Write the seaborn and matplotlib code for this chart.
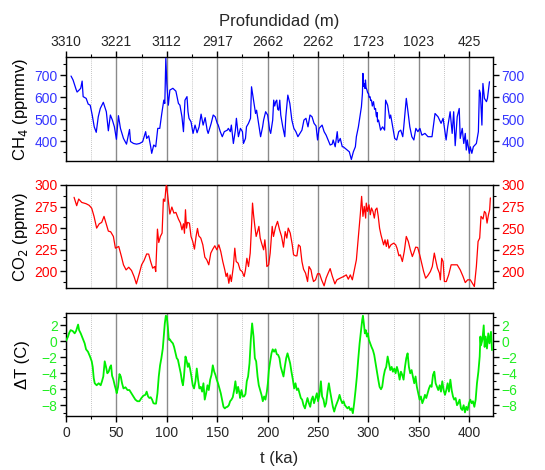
import matplotlib
matplotlib.use("Agg")
import matplotlib.pyplot as plt
from matplotlib.ticker import MultipleLocator
import numpy as np
import pandas as pd
import seaborn as sns

# Vostok ice core records: methane, carbon dioxide and temperature anomaly
ch4_age = [5, 7, 10, 11, 13, 14.6, 16, 17, 20, 22, 24, 26, 28, 30, 32, 34, 37, 40, 42, 44,
           46, 48, 50, 52, 54, 57, 60, 63, 64, 67, 70, 73, 76, 79, 80, 82, 84, 85, 87, 89,
           91, 93, 95, 97, 98, 99, 100, 101.5, 103, 106, 109, 111.5, 113, 115, 116.5, 118, 120, 121, 122, 124,
           126, 128, 130, 132, 134, 136, 138, 140, 141, 144, 146, 148, 150, 151, 153, 155, 157, 160, 161, 163,
           164, 166, 168, 169, 171, 173, 175, 176, 178, 179, 181, 183, 184, 186, 188, 189, 191, 193, 195, 196,
           198, 200, 202, 203, 205, 206, 207, 208, 209, 210, 211, 212, 213, 215, 217, 218, 220, 222, 224, 226,
           228, 230, 232, 234, 236, 238, 240, 242, 244, 246, 248, 249.5, 251, 254, 256, 258, 260, 262, 264, 265,
           267, 269, 270, 272, 274, 275, 279, 281, 283, 285, 287, 288, 290, 291, 293, 294, 294.5, 295.2, 296, 296.6,
           297, 297.6, 298.5, 299.2, 300, 300.7, 301.5, 302.2, 303, 303.8, 305, 306, 307, 307.6, 308, 308.6, 309, 310, 312, 314,
           316, 317, 319, 321, 322, 324, 326, 328, 330, 332, 334, 335, 337.5, 339, 341, 343, 345, 347, 349, 351,
           353, 356, 359, 363, 366, 369, 372, 374, 377, 378.6, 381, 383, 384.5, 386, 388, 390, 391, 393, 394.5, 396,
           397, 398, 400, 401, 402.5, 404, 407, 409, 410, 411, 412.5, 413.5, 415, 417, 418, 420]
ch4_ppmv = [697, 679, 636, 624, 633, 641, 674, 603, 595, 569, 564, 519, 465, 440, 511, 549, 577, 534, 447, 519,
            496, 465, 408, 516, 458, 412, 386, 453, 398, 389, 386, 389, 397, 443, 412, 424, 374, 344, 382, 374,
            458, 458, 526, 587, 572, 778, 663, 564, 633, 641, 628, 572, 564, 511, 443, 587, 603, 534, 504, 488,
            435, 473, 438, 465, 523, 473, 507, 450, 435, 481, 519, 511, 481, 473, 443, 420, 443, 450, 458, 443,
            473, 389, 450, 504, 420, 458, 443, 389, 412, 465, 481, 504, 648, 587, 526, 541, 481, 420, 465, 496,
            534, 519, 450, 435, 496, 587, 560, 580, 587, 545, 541, 587, 519, 465, 420, 511, 610, 572, 496, 458,
            443, 420, 435, 450, 496, 504, 465, 519, 511, 481, 469, 405, 458, 473, 443, 427, 405, 382, 386, 405,
            374, 443, 393, 412, 374, 374, 359, 351, 316, 351, 374, 420, 465, 496, 557, 618, 709, 650, 663, 640,
            679, 645, 633, 620, 618, 600, 603, 585, 587, 560, 580, 545, 549, 520, 511, 530, 488, 496, 450, 465,
            450, 587, 564, 504, 519, 465, 412, 405, 443, 450, 420, 465, 595, 541, 465, 420, 405, 458, 443, 458,
            427, 435, 420, 420, 526, 511, 481, 504, 405, 465, 534, 435, 534, 379, 511, 549, 412, 458, 389, 435,
            359, 405, 344, 374, 344, 374, 389, 443, 633, 618, 473, 663, 595, 580, 595, 671]

co2_age = [8, 10.6, 12.6, 15.6, 19.9, 23, 25.5, 27.8, 30.4, 33, 35.4, 37.7, 39.7, 42, 44.3, 47, 49, 52.3, 55, 57,
           59.6, 62.2, 65, 67.5, 69.8, 72.8, 75, 77.4, 80, 82, 84, 86, 88, 89, 90.7, 92, 93.6, 95.3, 96.6, 98,
           99, 99.6, 100.6, 101.9, 103, 105, 107, 109, 111.5, 113.5, 115, 116.5, 117.5, 118.5, 119.5, 120.5, 122.4, 124, 125.7, 127.4,
           129, 130.4, 131.7, 133.7, 135.7, 137.7, 139.6, 141.6, 143.6, 145.6, 147.6, 149.6, 151.6, 153.5, 155.5, 157.5, 158.8, 160, 161.5, 162.8,
           164, 166, 167.4, 168.8, 170.7, 172.7, 174.7, 176.7, 178, 179.4, 181, 182.7, 184, 185, 186, 187.3, 188.6, 190, 191.3, 192.6,
           194, 196, 197.2, 198.2, 199.2, 201, 202.5, 204.5, 205.8, 207.8, 209.8, 211.8, 213.8, 215.7, 217.4, 219, 220.4, 222.4, 224.4, 225.7,
           227.7, 229, 230.6, 232.3, 234, 235.6, 237.6, 239.6, 241, 243, 244.2, 245.5, 247.5, 249.5, 251.5, 253.5, 256, 258, 260, 262,
           264, 266.7, 268.7, 272, 275.3, 278, 280, 282, 284, 286, 288, 290, 292, 293.2, 294.5, 295.8, 297.2, 297.8, 299, 300.5,
           301.8, 303, 304.4, 305.8, 307, 308.4, 309.7, 311, 312.4, 313.7, 315, 316.4, 317.7, 319, 320.3, 322.3, 325, 327, 328.3, 330.2,
           331.6, 333.6, 335.5, 337.5, 339.5, 341.5, 343.5, 344.8, 346.8, 348.8, 350.8, 352.8, 354.7, 356.7, 358.7, 361.4, 363.3, 365.3, 366.6, 368.4,
           370.4, 371.3, 372.6, 374, 375.3, 377.2, 379.5, 382, 385, 388, 391, 393.8, 396, 398.4, 401, 403, 405, 407, 408.7, 410.3,
           411.6, 413.6, 415, 416.3, 417.6, 419, 420.2, 420.9]
co2_ppmv = [285.7, 276, 283.7, 279.8, 278.3, 276.4, 273, 263.6, 250, 255, 256.6, 263.6, 255.8, 246.5, 245.7, 240.3, 226.7, 228.7, 217, 207.4,
            201.5, 204.6, 200.8, 193.8, 185.3, 197.7, 207.4, 212.4, 220, 219.8, 211, 203.5, 205.4, 199.6, 248.8, 233.3, 240.3, 244.2, 283.7, 281,
            295.3, 300, 290.7, 277, 266.3, 274.4, 267.4, 268.2, 260.5, 255.8, 248, 255, 244, 271.3, 250, 256.6, 255.8, 240.3, 234.5, 225.6,
            240.3, 249.6, 241, 238.4, 230.6, 216.3, 213.2, 207.4, 221, 225.6, 229.5, 224.8, 230.6, 222.9, 211.2, 201.5, 193.8, 197.7, 186, 195.7,
            188, 205.4, 226.7, 211.2, 209.3, 201.5, 199.6, 193.8, 201.5, 215, 205.4, 221, 252, 279, 265.5, 252, 240.3, 246, 252, 238.4,
            232.5, 224.8, 236.4, 224.8, 205.4, 207.4, 221, 252, 240.3, 251.2, 257.8, 248, 240.3, 227.9, 246, 238.4, 250, 244.2, 230.6, 219,
            217.8, 217.8, 230.6, 228.7, 211.2, 202.3, 197.7, 188, 205.4, 201.5, 193.8, 188, 190, 197, 197, 190, 183, 192, 197.7, 203,
            194.6, 185.3, 190, 192, 193.8, 195.7, 190.7, 195.7, 190, 201.5, 213.2, 240.3, 267.4, 286.8, 263.6, 275.2, 261.6, 279, 269.4, 277,
            265.5, 273.3, 269.4, 261.6, 271.3, 273.3, 263.6, 250, 242.2, 236.4, 230.6, 236.4, 228.7, 236.4, 226.7, 230.6, 232.5, 230.6, 226.7, 217.8,
            219, 211.2, 222.9, 240.3, 234.5, 224.8, 217, 221, 227.9, 227.5, 219, 209.3, 199.6, 191.9, 194.6, 199.6, 205.4, 221, 213.2, 203.5,
            197.7, 190, 215, 211.2, 188, 188, 195.7, 207.4, 207.4, 207.4, 201.5, 193.8, 186.8, 190, 190, 186, 182.2, 205.4, 234.5, 238.4,
            263.6, 260.5, 269.4, 267.4, 255.8, 265.5, 271.3, 285]

temp_age = [0, 1.7, 3.3, 4.6, 6.6, 8.6, 10, 11.2, 12, 13, 14.6, 16.5, 18.5, 19.9, 21.8, 23.8, 25.5, 26.5, 27.5, 28.5,
            30.4, 32.4, 34.4, 35.7, 37, 38.4, 39.7, 41, 42.3, 43.7, 44.7, 45.7, 47, 48.3, 49.6, 50.3, 51.6, 53, 54.3, 55.6,
            57, 59, 61, 62.9, 64.8, 66.8, 68.8, 70.8, 72.8, 74.8, 76.8, 78.7, 80, 81.4, 82.7, 84, 85.4, 86.7, 88, 89.3,
            90.7, 92, 93.3, 94.6, 96, 97, 98, 99, 100, 101, 102, 103, 104.2, 106, 107.2, 108.5, 109.8, 111, 112.5, 113.8,
            115, 116, 117, 118.5, 119.8, 120.8, 121.8, 123, 124.4, 125.7, 127, 128.4, 129.7, 131, 132.3, 133.7, 135, 136.3, 137.6, 139,
            140.3, 141.6, 143, 144.3, 145.6, 147, 148.2, 149.5, 150.9, 152.2, 153.5, 154.8, 156.2, 157.5, 158.8, 160.1, 161.5, 162.8, 164.1, 165.4,
            166.8, 168, 169.4, 170.7, 172, 172.7, 174, 175.4, 176.7, 178, 179.3, 180.6, 182, 183.3, 184.6, 186, 187.3, 188.6, 190, 191.2,
            192.6, 193.9, 195.2, 196.5, 197.8, 199.2, 200.2, 201.2, 202.5, 203.8, 205, 206.4, 207.8, 209, 210.4, 211.7, 213, 214.4, 215.7, 217,
            218.4, 219.7, 221, 222.3, 223.6, 225, 226.3, 227.6, 229, 230.3, 231.6, 232.9, 234.2, 235.6, 237, 238.2, 239.5, 240.9, 242.2, 243.5,
            244.8, 246, 247.5, 248.8, 250, 251.4, 252.8, 254, 255.4, 256.7, 258, 259.4, 260.7, 262, 263.4, 264.7, 266, 267.3, 268.6, 270,
            271.3, 272.6, 274, 275.3, 276.6, 277.9, 279.2, 280.6, 281.9, 283.2, 284.5, 285.8, 287.2, 288.5, 289.8, 291.2, 292.5, 293.8, 294.5, 295.4,
            296.4, 297.4, 298.4, 299.4, 300.4, 301.7, 303, 304.4, 305.7, 307, 308.4, 309.7, 311, 312.4, 313.6, 315, 316.3, 317.6, 319, 320.3,
            321.6, 323, 324.2, 325.6, 326.9, 328.2, 329.5, 330.9, 332.2, 333.5, 334.8, 336.2, 337.5, 338.8, 340.1, 341.4, 342.8, 344, 345.4, 346.7,
            348, 349.4, 350.7, 352, 353.4, 354.7, 356, 357.3, 358.7, 360, 361.3, 362.6, 364, 365.3, 366.6, 368, 369.2, 370.6, 371.9, 373.2,
            374.5, 375.9, 377.2, 378.5, 379.8, 381.2, 382.5, 383.8, 385, 386.4, 387.8, 389, 390.4, 391.7, 393, 394.4, 395.7, 397, 398.3, 399.7,
            401, 402.3, 403.6, 405, 406.3, 407.6, 409, 410.3, 411, 411.6, 413, 414.3, 415.2, 416.2, 417.5, 418.8, 420, 421.5, 422.5]
temp_delta = [0.08, 0.5, 1.1, 1.4, 1.3, 1.0, 1.3, 1.8, 2.1, 1.4, 1.0, 0.4, -0.25, -1.0, -1.3, -1.9, -2.5, -3.2, -4.6, -5.25,
              -5.5, -5.25, -5.5, -5.0, -4.4, -2.5, -3.2, -4.0, -3.8, -3.2, -3.0, -4.3, -4.8, -5.5, -6.1, -6.5, -5.75, -4.1, -4.4, -5.25,
              -5.9, -5.75, -6.1, -6.1, -6.5, -6.9, -7.3, -7.5, -7.5, -7.1, -6.8, -6.7, -6.3, -6.9, -7.1, -7.0, -7.3, -7.75, -7.8, -7.8,
              -6.5, -4.4, -3.0, -2.1, -0.9, 0.6, 2.25, 3.2, 3.1, 1.8, 0.2, 0.25, 0.0, -0.25, -0.7, -1.4, -2.1, -2.3, -3.2, -4.0,
              -5.0, -5.5, -4.4, -1.9, -2.5, -3.2, -2.75, -3.4, -4.4, -5.5, -5.9, -5.0, -3.4, -4.8, -5.9, -5.7, -6.3, -5.25, -7.3, -6.5,
              -5.5, -6.1, -4.8, -4.2, -3.0, -3.8, -4.2, -4.8, -5.3, -5.9, -6.5, -7.3, -8.2, -8.4, -8.25, -8.2, -8.0, -7.5, -7.3, -7.0,
              -6.1, -5.0, -6.5, -5.7, -6.5, -7.1, -6.1, -6.9, -6.9, -6.6, -5.0, -4.4, -2.75, 0.2, 2.25, 0.6, -2.1, -2.5, -4.4, -5.5,
              -6.1, -6.7, -7.5, -6.9, -7.3, -6.3, -5.25, -3.6, -2.5, -1.5, -1.0, -1.3, -1.0, -1.6, -1.7, -2.1, -3.2, -3.8, -4.4, -3.2,
              -2.1, -1.5, -2.1, -2.75, -3.8, -4.8, -5.9, -5.25, -6.1, -5.9, -6.5, -7.1, -7.3, -8.0, -8.4, -7.75, -7.1, -7.75, -8.2, -7.3,
              -6.9, -7.75, -7.1, -6.5, -7.5, -6.7, -5.0, -6.9, -7.3, -8.2, -7.75, -6.3, -5.25, -6.3, -7.3, -8.2, -8.8, -8.2, -7.75, -7.3,
              -6.7, -7.3, -7.75, -7.5, -8.0, -8.2, -8.4, -8.2, -8.6, -8.4, -9.0, -7.75, -6.1, -4.4, -2.3, -0.25, 1.2, 2.7, 3.2, 2.25,
              1.0, 1.4, 0.6, 1.0, 0.2, -0.25, -0.7, -1.1, -1.7, -2.75, -3.8, -4.8, -5.7, -6.0, -5.7, -4.4, -3.6, -3.2, -1.9, -2.75,
              -3.6, -3.2, -3.8, -3.4, -4.0, -3.2, -3.8, -4.8, -3.8, -4.2, -4.8, -3.2, -2.1, -1.5, -3.2, -4.0, -3.6, -4.4, -5.25, -4.4,
              -5.7, -6.5, -7.3, -6.9, -7.75, -7.3, -6.7, -7.1, -6.5, -5.9, -5.5, -5.7, -4.2, -3.8, -5.25, -5.7, -6.1, -5.5, -6.3, -5.0,
              -6.1, -6.7, -6.1, -5.25, -6.3, -4.8, -6.1, -6.9, -7.3, -7.1, -8.0, -7.75, -7.3, -8.4, -8.6, -8.0, -8.9, -8.2, -8.6, -7.75,
              -7.3, -7.75, -7.5, -8.2, -7.3, -5.25, -3.8, -1.9, 0.6, -0.5, 0.2, 2.0, -0.7, 0.6, -0.9, 1.0, -0.25, 1.2, -1.1]

grid_ages = np.arange(0, 401, 50)
depth_labels = ["3310", "3221", "3112", "2917", "2662", "2262", "1723", "1023", "425"]

ch4 = pd.DataFrame({"age": ch4_age, "value": ch4_ppmv})
co2 = pd.DataFrame({"age": co2_age, "value": co2_ppmv})
temp = pd.DataFrame({"age": temp_age, "value": temp_delta})

sns.set_style("white")
plt.rcParams["font.family"] = ["Liberation Sans", "DejaVu Sans"]

fig = plt.figure(figsize=(5.45, 4.70), dpi=100)
left, width = 66 / 545, 427 / 545
ax1 = fig.add_axes([left, 1 - 161 / 470, width, 104 / 470])
ax2 = fig.add_axes([left, 1 - 288 / 470, width, 103 / 470])
ax3 = fig.add_axes([left, 1 - 416 / 470, width, 103 / 470])

panels = [
    (ax1, ch4, "blue", "#3535ff", "CH$_4$ (ppmmv)", (309, 784), 50, [400, 500, 600, 700], 0.9),
    (ax2, co2, "red", "red", "CO$_2$ (ppmv)", (180.5, 300), 12.5, [200, 225, 250, 275, 300], 0.9),
    (ax3, temp, "#00ee00", "#22ee22", "ΔT (C)", (-9.35, 3.55), 1, [-8, -6, -4, -2, 0, 2], 1.3),
]

for ax, df, color, tick_color, label, ylim, minor, yticks, lw in panels:
    sns.lineplot(data=df, x="age", y="value", ax=ax, color=color, lw=lw,
                 estimator=None, sort=False, zorder=3)
    ax.set_xlim(0, 423.5)
    ax.set_ylim(*ylim)
    ax.set_yticks(yticks)
    ax.yaxis.set_minor_locator(MultipleLocator(minor))
    ax.set_xticks(grid_ages)
    ax.xaxis.set_minor_locator(MultipleLocator(25))
    ax.grid(False)
    for a in grid_ages:
        ax.axvline(a, color="#8a8a8a", lw=1.0, zorder=1)
    for a in np.arange(25, 401, 50):
        ax.axvline(a, color="#b0b0b0", lw=0.6, ls=(0, (1, 1.5)), zorder=1)
    for s in ax.spines.values():
        s.set_visible(True)
        s.set_color("black")
        s.set_linewidth(1.0)
    ax.tick_params(axis="y", which="both", left=True, right=True, labelleft=True, labelright=True,
                   direction="out", labelcolor=tick_color, color="black", labelsize=10, pad=2)
    ax.tick_params(axis="y", which="major", length=4, width=1)
    ax.tick_params(axis="y", which="minor", length=2.5, width=0.8)
    ax.tick_params(axis="x", which="both", bottom=False, top=False, labelbottom=False, labeltop=False)
    ax.set_ylabel(label, fontsize=12, color="black")
    ax.yaxis.set_label_coords(-0.085, 0.5)
    ax.set_xlabel("")

# depth scale along the top of the methane panel
ax1.tick_params(axis="x", which="both", top=True, labeltop=True, direction="out", color="black",
                labelsize=10, pad=2)
ax1.tick_params(axis="x", which="major", length=4, width=1)
ax1.tick_params(axis="x", which="minor", length=2.5, width=0.8)
ax1.set_xticklabels(depth_labels)
ax1.xaxis.set_label_position("top")
ax1.set_xlabel("Profundidad (m)", fontsize=12, labelpad=6)

# age scale along the bottom of the temperature panel
ax3.tick_params(axis="x", which="both", bottom=True, labelbottom=True, direction="out", color="black",
                labelsize=10, pad=3)
ax3.tick_params(axis="x", which="major", length=4, width=1)
ax3.tick_params(axis="x", which="minor", length=2.5, width=0.8)
ax3.set_xticklabels([str(a) for a in grid_ages])
ax3.set_xlabel("t (ka)", fontsize=12, labelpad=8)

fig.savefig("out.png", dpi=100)
